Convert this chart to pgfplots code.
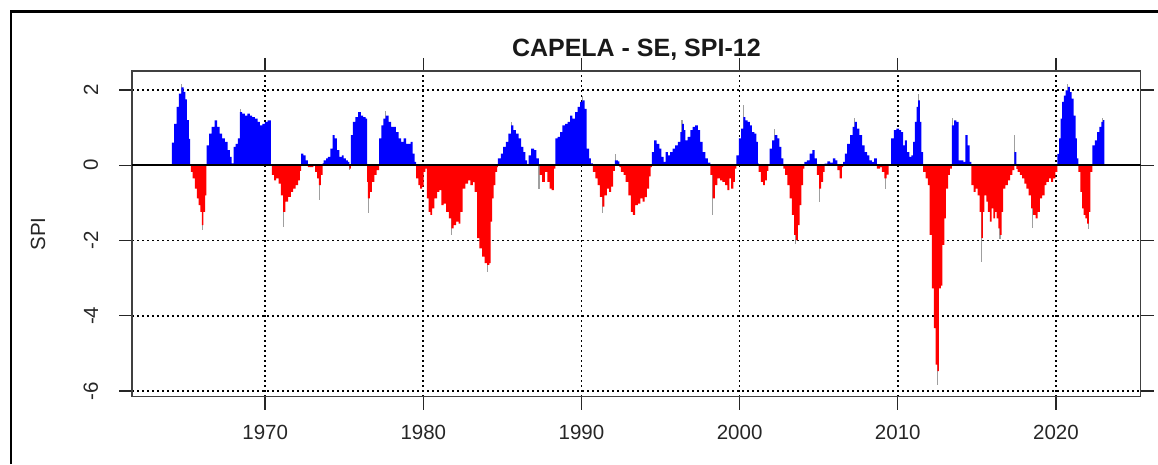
\documentclass[border=0pt]{standalone}
\usepackage{pgfplots}
\pgfplotsset{compat=1.18}
\usepackage{pgfplotstable}
\usepackage{fontspec}
\setmainfont{Liberation Sans}

\pgfplotstableread{
x y
1964.10 0.60
1964.25 1.10
1964.40 1.55
1964.55 1.90
1964.70 2.07
1964.85 1.95
1964.95 1.75
1965.05 1.20
1965.17 0.70
1965.25 0.00
1965.30 -0.18
1965.42 -0.35
1965.55 -0.62
1965.68 -0.88
1965.80 -1.06
1965.90 -1.24
1966.00 -1.59
1966.10 -1.24
1966.20 -0.80
1966.28 0.00
1966.30 0.53
1966.45 0.84
1966.62 1.02
1966.80 1.19
1966.97 1.02
1967.12 0.84
1967.28 0.71
1967.45 0.62
1967.62 0.40
1967.77 0.22
1967.88 0.05
1968.00 0.49
1968.14 0.57
1968.28 0.71
1968.40 1.41
1968.55 1.37
1968.72 1.32
1968.88 1.37
1969.03 1.32
1969.18 1.28
1969.35 1.24
1969.52 1.15
1969.66 1.06
1969.82 1.10
1969.98 1.15
1970.15 1.19
1970.28 1.19
1970.36 0.00
1970.42 -0.26
1970.56 -0.40
1970.70 -0.35
1970.85 -0.49
1971.00 -0.80
1971.13 -1.24
1971.28 -0.97
1971.45 -0.84
1971.62 -0.71
1971.77 -0.62
1971.92 -0.53
1972.08 -0.40
1972.20 -0.15
1972.28 0.31
1972.42 0.26
1972.56 0.13
1972.70 -0.05
1973.05 0.00
1973.16 -0.18
1973.28 -0.35
1973.40 -0.53
1973.52 -0.26
1973.63 0.05
1973.70 0.13
1973.85 0.18
1973.97 0.22
1974.12 0.44
1974.26 0.80
1974.39 0.71
1974.54 0.40
1974.69 0.22
1974.85 0.26
1974.96 0.18
1975.11 0.13
1975.23 0.09
1975.32 -0.09
1975.42 0.80
1975.55 1.15
1975.70 1.28
1975.88 1.41
1976.05 1.32
1976.20 1.28
1976.35 1.24
1976.44 -0.44
1976.50 -0.88
1976.62 -0.71
1976.75 -0.44
1976.90 -0.26
1977.05 -0.13
1977.20 0.71
1977.35 1.06
1977.48 1.24
1977.62 1.32
1977.80 1.15
1977.97 1.02
1978.12 1.02
1978.27 0.88
1978.44 0.71
1978.60 0.62
1978.76 0.71
1978.91 0.57
1979.07 0.57
1979.20 0.62
1979.33 0.31
1979.45 0.09
1979.55 -0.35
1979.68 -0.53
1979.80 -0.62
1979.92 -0.57
1980.02 -0.18
1980.13 -0.09
1980.23 -0.88
1980.34 -1.24
1980.45 -1.32
1980.55 -1.15
1980.70 -0.88
1980.87 -0.71
1981.02 -0.66
1981.14 -1.06
1981.29 -1.02
1981.44 -1.24
1981.61 -1.41
1981.77 -1.68
1981.92 -1.59
1982.07 -1.50
1982.24 -1.55
1982.34 -1.24
1982.49 -0.62
1982.66 -0.49
1982.83 -0.40
1982.98 -0.53
1983.13 -0.45
1983.25 -0.71
1983.40 -1.94
1983.55 -2.21
1983.72 -2.43
1983.88 -2.60
1984.03 -2.65
1984.18 -2.60
1984.25 -1.50
1984.35 -0.88
1984.45 -0.53
1984.55 -0.18
1984.66 -0.05
1984.72 0.18
1984.90 0.31
1985.05 0.49
1985.22 0.62
1985.38 0.84
1985.55 1.06
1985.70 0.93
1985.85 0.84
1986.02 0.71
1986.18 0.49
1986.33 0.35
1986.45 0.13
1986.56 0.03
1986.66 0.26
1986.82 0.44
1987.00 0.40
1987.15 0.18
1987.30 0.00
1987.36 -0.26
1987.52 -0.44
1987.68 -0.18
1987.84 -0.44
1987.98 -0.62
1988.12 -0.66
1988.25 -0.09
1988.35 0.71
1988.50 0.75
1988.65 0.88
1988.80 1.06
1988.96 1.10
1989.13 1.15
1989.28 1.32
1989.43 1.24
1989.60 1.41
1989.76 1.55
1989.92 1.68
1990.06 1.72
1990.20 1.50
1990.33 0.44
1990.48 0.18
1990.60 0.05
1990.72 -0.18
1990.88 -0.35
1991.02 -0.53
1991.17 -0.84
1991.32 -1.10
1991.45 -0.80
1991.60 -0.62
1991.75 -0.71
1991.88 -0.57
1992.00 -0.15
1992.12 0.13
1992.30 0.10
1992.40 -0.05
1992.50 -0.18
1992.66 -0.26
1992.80 -0.44
1992.97 -0.80
1993.12 -1.24
1993.25 -1.32
1993.40 -1.06
1993.56 -1.02
1993.72 -0.88
1993.86 -0.97
1994.00 -0.85
1994.14 -0.62
1994.28 -0.30
1994.38 -0.05
1994.45 0.35
1994.60 0.66
1994.76 0.57
1994.92 0.44
1995.05 0.22
1995.20 0.09
1995.32 0.35
1995.46 0.26
1995.60 0.35
1995.76 0.44
1995.92 0.53
1996.10 0.62
1996.25 0.88
1996.36 1.10
1996.47 0.93
1996.57 0.66
1996.72 0.75
1996.88 0.93
1997.03 1.02
1997.19 1.06
1997.36 0.93
1997.51 0.62
1997.66 0.35
1997.83 0.18
1998.00 0.07
1998.15 -0.26
1998.30 -0.88
1998.44 -0.53
1998.60 -0.35
1998.76 -0.40
1998.91 -0.44
1999.08 -0.53
1999.23 -0.66
1999.36 -0.35
1999.47 -0.62
1999.60 -0.44
1999.70 -0.09
1999.80 0.26
1999.95 0.71
2000.10 0.97
2000.24 1.28
2000.36 1.19
2000.50 1.15
2000.65 1.06
2000.78 0.88
2000.93 0.84
2001.06 0.62
2001.15 0.05
2001.20 -0.18
2001.34 -0.44
2001.48 -0.53
2001.60 -0.40
2001.72 -0.15
2001.82 0.00
2001.90 0.44
2002.05 0.66
2002.22 0.80
2002.38 0.71
2002.52 0.49
2002.64 0.18
2002.76 -0.09
2002.88 -0.26
2003.02 -0.53
2003.16 -0.88
2003.30 -1.32
2003.44 -1.85
2003.56 -1.99
2003.68 -1.59
2003.79 -1.06
2003.90 -0.53
2004.01 -0.09
2004.10 0.09
2004.25 0.13
2004.43 0.31
2004.60 0.40
2004.75 0.18
2004.88 -0.26
2005.02 -0.62
2005.16 -0.44
2005.28 -0.18
2005.38 0.04
2005.55 0.10
2005.72 0.07
2005.90 0.18
2006.05 0.13
2006.18 -0.13
2006.32 -0.35
2006.46 -0.05
2006.54 0.09
2006.66 0.31
2006.80 0.57
2006.98 0.80
2007.14 1.02
2007.28 1.15
2007.42 0.97
2007.58 0.80
2007.74 0.53
2007.90 0.35
2008.06 0.26
2008.20 0.13
2008.36 0.09
2008.50 0.18
2008.68 -0.09
2008.88 -0.05
2009.00 -0.18
2009.15 -0.35
2009.30 -0.25
2009.42 0.00
2009.58 0.71
2009.75 0.93
2009.92 0.97
2010.08 0.93
2010.22 0.88
2010.34 0.53
2010.45 0.66
2010.58 0.35
2010.73 0.22
2010.86 0.26
2010.97 0.62
2011.08 1.15
2011.19 1.55
2011.29 1.72
2011.40 1.15
2011.50 0.35
2011.60 -0.18
2011.76 -0.35
2011.90 -0.53
2012.02 -1.85
2012.15 -3.27
2012.28 -4.33
2012.40 -5.30
2012.50 -5.47
2012.60 -3.27
2012.72 -3.20
2012.82 -2.12
2012.94 -1.41
2013.05 -0.62
2013.18 -0.26
2013.30 -0.09
2013.42 1.06
2013.56 1.19
2013.70 1.15
2013.85 0.13
2014.00 0.13
2014.15 0.09
2014.28 0.80
2014.42 0.53
2014.55 0.09
2014.66 -0.53
2014.80 -0.71
2014.92 -0.62
2015.05 -0.80
2015.18 -1.24
2015.28 -1.94
2015.38 -1.24
2015.48 -0.80
2015.60 -0.97
2015.70 -1.24
2015.82 -1.50
2015.94 -1.15
2016.04 -1.41
2016.15 -1.24
2016.25 -1.41
2016.36 -1.68
2016.46 -1.85
2016.56 -1.24
2016.66 -0.62
2016.80 -0.53
2016.96 -0.40
2017.10 -0.26
2017.24 -0.13
2017.37 0.35
2017.50 -0.10
2017.58 -0.18
2017.72 -0.26
2017.86 -0.35
2018.00 -0.49
2018.14 -0.62
2018.28 -0.80
2018.43 -1.15
2018.56 -1.32
2018.71 -1.41
2018.85 -1.24
2018.98 -0.88
2019.13 -0.80
2019.28 -0.53
2019.40 -0.44
2019.55 -0.35
2019.70 -0.44
2019.83 -0.35
2019.97 -0.18
2020.10 0.30
2020.20 0.71
2020.30 1.24
2020.40 1.68
2020.50 1.85
2020.62 1.99
2020.75 2.08
2020.88 1.94
2021.00 1.77
2021.12 1.32
2021.24 0.71
2021.33 0.18
2021.42 -0.18
2021.54 -0.71
2021.66 -1.15
2021.76 -1.32
2021.87 -1.41
2021.98 -1.55
2022.08 -1.24
2022.18 -0.18
2022.30 0.53
2022.46 0.66
2022.60 0.88
2022.75 1.02
2022.88 1.15
2022.98 1.20
2023.06 0.00
}\spi

\pgfplotstableread{
x y
1964.70 2.15
1966.02 -1.72
1968.45 1.50
1971.15 -1.63
1973.42 -0.93
1975.32 -0.14
1976.52 -1.28
1977.60 1.45
1981.79 -1.85
1984.05 -2.83
1985.55 1.15
1987.32 -0.62
1990.08 1.85
1991.35 -1.28
1992.15 0.31
1996.36 1.20
1998.30 -1.32
2000.24 1.59
2002.22 0.97
2003.56 -2.10
2005.05 -0.97
2007.28 1.25
2009.20 -0.62
2011.30 1.90
2012.52 -5.83
2013.45 1.25
2015.30 -2.56
2016.46 -1.95
2017.40 0.80
2018.50 -1.68
2020.75 2.15
2022.05 -1.70
2022.95 1.25
}\spikes

\begin{document}
\begin{tikzpicture}
\path[use as bounding box] (0,0) rectangle (694.8pt,278.4pt);
\draw[black, line width=1.4pt] (6.6pt,0) -- (6.6pt,271.5pt) -- (694.8pt,271.5pt);
\begin{axis}[
  at={(79.2pt,40.4pt)}, anchor=south west,
  scale only axis, width=605.2pt, height=195.4pt,
  xmin=1961.58, xmax=2025.36, ymin=-6.15, ymax=2.503,
  xtick={1970,1980,1990,2000,2010,2020},
  xticklabels={1970,1980,1990,2000,2010,2020},
  ytick={-6,-4,-2,0,2},
  yticklabels={-6,-4,-2,0,2},
  tick align=outside,
  major tick length=7.8pt,
  tick style={black!85, line width=0.8pt},
  axis line style={black!75, line width=0.9pt},
  grid=major,
  major grid style={black, line width=1pt, dash pattern=on 1.2pt off 1.8pt},
  tick label style={font=\fontsize{12.3}{14}\selectfont, text=black!85},
  yticklabel style={rotate=90, anchor=south},
  xticklabel shift=6pt,
  yticklabel shift=9pt,
  title={\textbf{CAPELA - SE, SPI-12}},
  title style={at={(0.5,1)}, anchor=base, yshift=2.4pt, font=\fontsize{15}{17}\selectfont, text=black!90},
  ylabel={SPI},
  ylabel style={at={(axis description cs:-0.0932,0.5)}, anchor=center, font=\fontsize{12.3}{14}\selectfont, text=black!85},
  clip=true,
  axis on top=false,
]
\addplot[ycomb, gray!75, line width=0.7pt, mark=none] table[x=x, y=y] {\spikes};
\addplot[ybar interval, fill=blue, draw=none] table[x=x, y expr={max(\thisrow{y},0)}] {\spi};
\addplot[ybar interval, fill=red, draw=none] table[x=x, y expr={min(\thisrow{y},0)}] {\spi};
\addplot[black, line width=0.9pt, mark=none] coordinates {(1961.58,0) (2025.36,0)};
\end{axis}
\end{tikzpicture}
\end{document}
